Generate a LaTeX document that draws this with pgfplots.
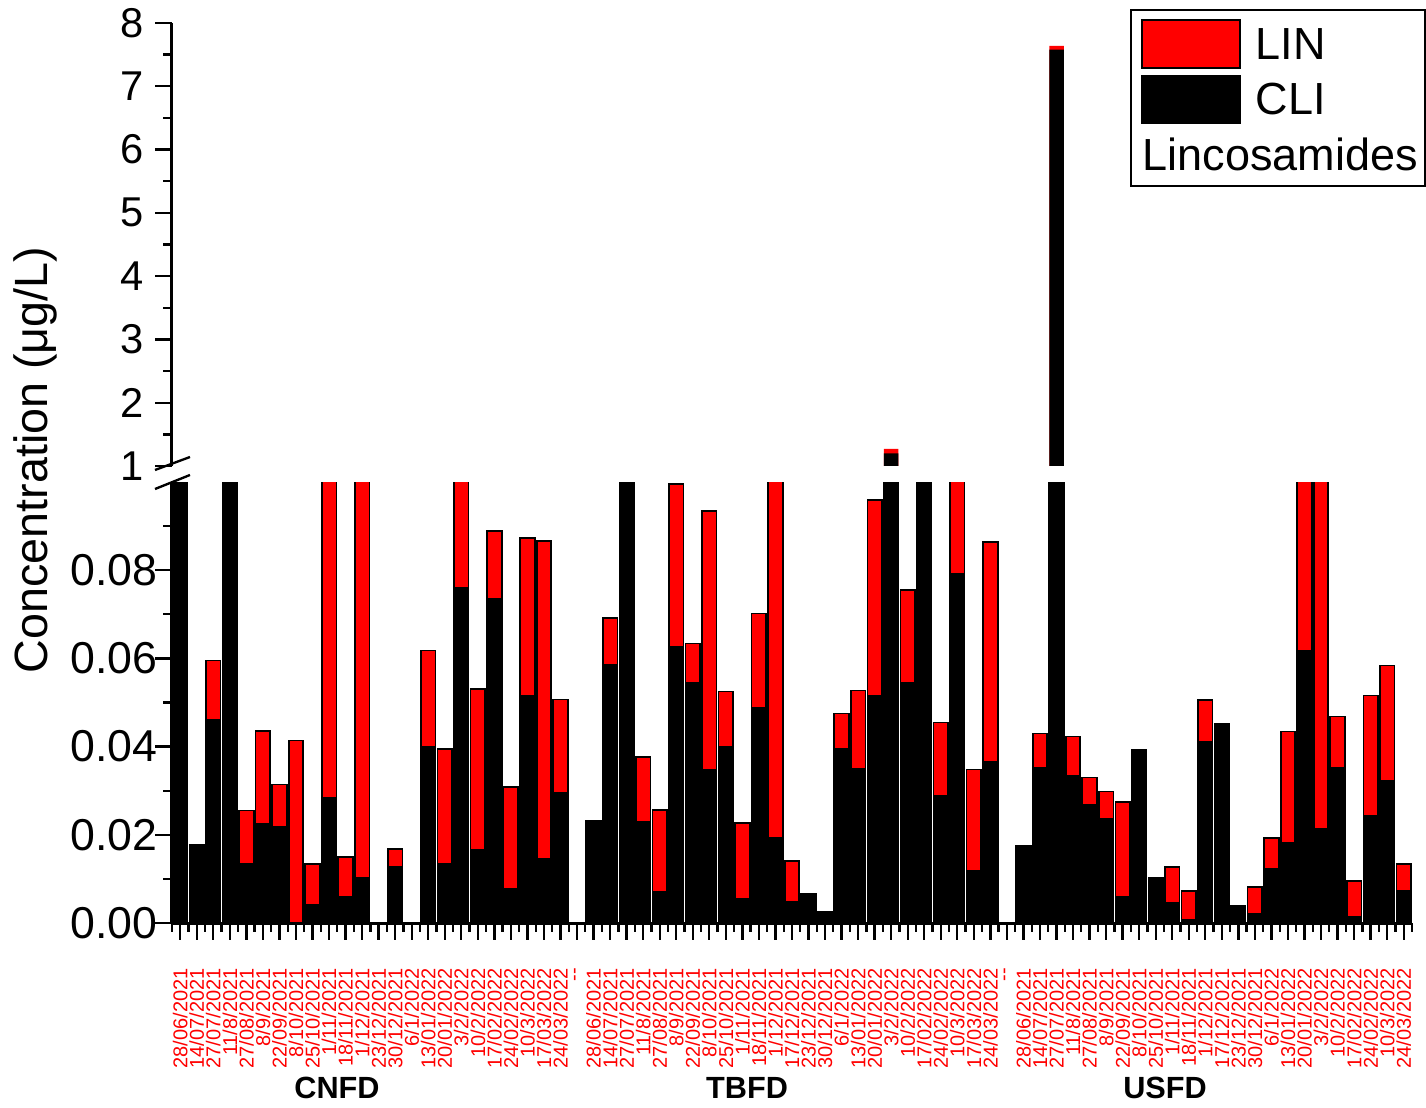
\documentclass[border=0pt]{standalone}
\usepackage{pgfplots}
\pgfplotsset{compat=1.18}
\usepackage{pgfplotstable}
\usepackage{fontspec}
\setmainfont{Liberation Sans}

\pgfplotstableread{
x cli lin
0 0.3 0
1 0.0177 0
2 0.0461 0.0134
3 0.3 0
4 0.0134 0.0121
5 0.0225 0.0211
6 0.0218 0.0096
7 0 0.0414
8 0.0041 0.0093
9 0.0284 0.3
10 0.0059 0.0091
11 0.0102 0.3
13 0.0127 0.0041
15 0.0400 0.0218
16 0.0134 0.0261
17 0.0761 0.3
18 0.0166 0.0364
19 0.0734 0.0155
20 0.0077 0.0232
21 0.0514 0.0359
22 0.0145 0.0721
23 0.0295 0.0212
25 0.0232 0
26 0.0586 0.0105
27 0.3 0
28 0.0230 0.0147
29 0.0070 0.0187
30 0.0627 0.0368
31 0.0545 0.0089
32 0.0348 0.0586
33 0.0400 0.0125
34 0.0055 0.0172
35 0.0489 0.0213
36 0.0193 0.3
37 0.0048 0.0093
38 0.0066 0
39 0.0025 0
40 0.0395 0.0080
41 0.0350 0.0177
42 0.0514 0.0445
43 1.2 0.07
44 0.0545 0.0210
45 0.3 0
46 0.0289 0.0166
47 0.0791 0.3
48 0.0118 0.0230
49 0.0366 0.0498
51 0.0175 0
52 0.0352 0.0078
53 7.58 0.06
54 0.0334 0.0089
55 0.0268 0.0062
56 0.0236 0.0062
57 0.0059 0.0216
58 0.0393 0
59 0.0102 0
60 0.0046 0.0081
61 0.0007 0.0066
62 0.0411 0.0094
63 0.0452 0
64 0.0039 0
65 0.0020 0.0062
66 0.0123 0.0070
67 0.0182 0.0252
68 0.0618 0.3
69 0.0214 0.3
70 0.0352 0.0116
71 0.0014 0.0081
72 0.0243 0.0273
73 0.0323 0.0261
74 0.0073 0.0061
}\datatable

\begin{document}
\begin{tikzpicture}
\pgfplotsset{
 common/.style={
  scale only axis, width=372pt, xmin=-0.5, xmax=74.5,
  axis line style={line width=0.9pt},
  tick style={line width=0.7pt, black},
  tick align=outside,
  major tick length=5pt, minor tick length=2.6pt,
  /pgf/number format/assume math mode=true,
 }
}
\begin{axis}[common, ybar stacked, bar width=0.88, at={(0pt,0pt)}, anchor=south west, height=132.3pt,
  ymin=0, ymax=0.1, axis x line*=bottom, axis y line*=left,
  ytick={0,0.02,0.04,0.06,0.08}, minor ytick={0.01,0.03,0.05,0.07,0.09},
  yticklabel style={font=\fontsize{13.4}{14}\selectfont, xshift=4.2pt, /pgf/number format/fixed, /pgf/number format/fixed zerofill, /pgf/number format/precision=2},
  xtick={0,...,74}, minor xtick={-0.5,0.5,...,74.5},
  xticklabels={28/06/2021,14/07/2021,27/07/2021,11/8/2021,27/08/2021,8/9/2021,22/09/2021,8/10/2021,25/10/2021,1/11/2021,18/11/2021,1/12/2021,23/12/2021,30/12/2021,6/1/2022,13/01/2022,20/01/2022,3/2/2022,10/2/2022,17/02/2022,24/02/2022,10/3/2022,17/03/2022,24/03/2022,
  -{}-,
  28/06/2021,14/07/2021,27/07/2021,11/8/2021,27/08/2021,8/9/2021,22/09/2021,8/10/2021,25/10/2021,1/11/2021,18/11/2021,1/12/2021,17/12/2021,23/12/2021,30/12/2021,6/1/2022,13/01/2022,20/01/2022,3/2/2022,10/2/2022,17/02/2022,24/02/2022,10/3/2022,17/03/2022,24/03/2022,
  -{}-,
  28/06/2021,14/07/2021,27/07/2021,11/8/2021,27/08/2021,8/9/2021,22/09/2021,8/10/2021,25/10/2021,1/11/2021,18/11/2021,1/12/2021,17/12/2021,23/12/2021,30/12/2021,6/1/2022,13/01/2022,20/01/2022,3/2/2022,10/2/2022,17/02/2022,24/02/2022,10/3/2022,24/03/2022},
  xticklabel style={rotate=90, anchor=east, font=\fontsize{6}{6}\selectfont, text=red, inner sep=0pt},
  xticklabel shift=8.4pt,
]
\addplot[fill=black, draw=black, line width=0.5pt] table[x=x, y=cli]{\datatable};
\addplot[fill=red, draw=black, line width=0.5pt] table[x=x, y=lin]{\datatable};
\end{axis}

\begin{axis}[common, ybar=0pt, bar width=0.88, bar shift=0pt, at={(0pt,137.1pt)}, anchor=south west, height=132.9pt,
  ymin=1, ymax=8, axis y line*=left, axis x line=none,
  ytick={1,...,8}, minor ytick={1.5,2.5,...,7.5},
  yticklabel style={font=\fontsize{12.5}{13}\selectfont},
  restrict y to domain=1:100,
]
\addplot[fill=red, draw=none] table[x=x, y expr=\thisrow{cli}+\thisrow{lin}]{\datatable};
\addplot[fill=black, draw=none] table[x=x, y=cli]{\datatable};
\end{axis}

\begin{scope}[x=0.3pt, y=-0.3pt, shift={(-172,-923)}]
 \node[rotate=90, font=\fontsize{14}{14}\selectfont] at (35,460) {Concentration (μg/L)};
 \node[font=\bfseries\fontsize{9.2}{10}\selectfont] at (337,1088) {CNFD};
 \node[font=\bfseries\fontsize{9.2}{10}\selectfont] at (747,1088) {TBFD};
 \node[font=\bfseries\fontsize{9.2}{10}\selectfont] at (1165,1088) {USFD};
 \draw[line width=0.7pt] (155,470) -- (190,457);
 \draw[line width=0.7pt] (155,489) -- (190,475);
 \draw[line width=0.4pt, fill=white] (1131,10) rectangle (1425,186);
 \draw[line width=0.5pt, fill=red] (1142,20) rectangle (1240,68);
 \draw[line width=0.5pt, fill=black] (1142,76) rectangle (1240,123);
 \node[anchor=west, inner sep=0pt, font=\fontsize{13.5}{14}\selectfont] at (1255,44) {LIN};
 \node[anchor=west, inner sep=0pt, font=\fontsize{13.5}{14}\selectfont] at (1255,99) {CLI};
 \node[anchor=west, inner sep=0pt, font=\fontsize{13.5}{14}\selectfont] at (1142,154) {Lincosamides};
\end{scope}
\pgfresetboundingbox
\useasboundingbox (-51.6pt,-55.2pt) rectangle (376.2pt,276.9pt);
\end{tikzpicture}
\end{document}
